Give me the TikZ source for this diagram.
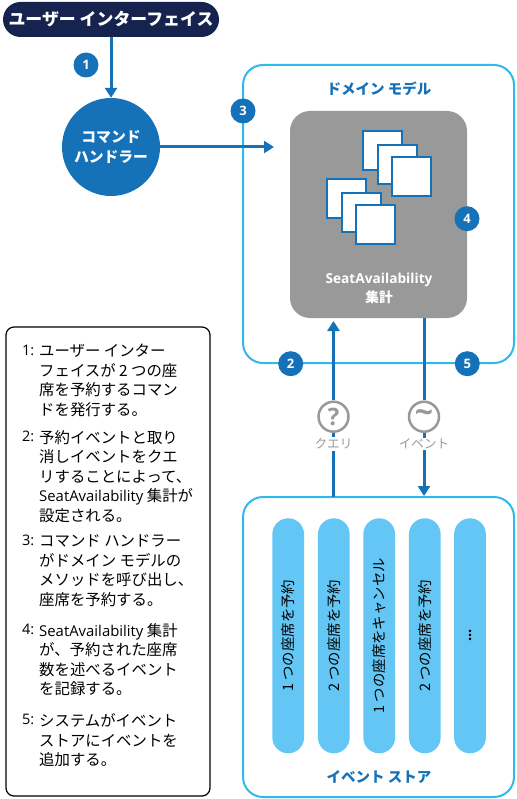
\documentclass[tikz,border=0pt]{standalone}
\usepackage{fontspec}
\setmainfont{Open Sans}
\newfontfamily\cjk{Noto Sans CJK JP}
\usetikzlibrary{arrows.meta}

\definecolor{navy}{HTML}{16234F}
\definecolor{flow}{HTML}{1672B8}
\definecolor{frame}{HTML}{2FB9EC}
\definecolor{slab}{HTML}{999999}
\definecolor{stream}{HTML}{63C6F4}

\newcommand{\seatname}{{\rmfamily\fontsize{14.9}{19.6}\selectfont SeatAvailability}}

\tikzset{
	badge/.style={circle,fill=flow,text=white,minimum size=25pt,inner sep=0pt,font=\bfseries\fontsize{13}{13}\selectfont},
	region/.style={rectangle,draw=frame,line width=2pt,rounded corners=20pt,minimum width=271pt,inner sep=0pt},
	seat/.style={rectangle,draw=flow,line width=2pt,fill=white,minimum size=39pt,inner sep=0pt},
	flowline/.style={draw=flow,line width=3pt},
	flowarrow/.style={flowline,-{Triangle[length=10pt,width=12pt]}},
	sign/.style={circle,draw=slab,line width=2.5pt,fill=white,text=slab,minimum size=30pt,inner sep=0pt},
	signtext/.style={text=slab,inner sep=1pt,font=\cjk\fontsize{12.6}{12.6}\selectfont},
	entry/.style={rectangle,fill=stream,rounded corners=15.8pt,minimum width=235pt,minimum height=31.7pt,inner sep=0pt,rotate=90,font=\cjk\fontsize{14.4}{14.4}\selectfont},
	notenum/.style={anchor=north west,inner sep=0pt,font=\fontsize{14.5}{19.6}\selectfont},
	notetext/.style={anchor=north west,inner sep=0pt,align=left,font=\cjk\fontsize{15.4}{19.6}\selectfont},
	regionname/.style={text=flow,font=\cjk\bfseries\fontsize{14.5}{14.5}\selectfont},
}

\begin{document}
\begin{tikzpicture}[x=1pt,y=-1pt]

	\useasboundingbox (0,0) rectangle (516,799);

	\node[region,minimum height=298pt] (domain) at (378.5,214) {};
	\node[region,minimum height=300pt] (store) at (378.5,647) {};

	\node[rectangle,fill=navy,rounded corners=17.5pt,minimum width=216pt,minimum height=35pt,inner sep=0pt,text=white,font=\cjk\bfseries\fontsize{16.9}{16.9}\selectfont] (ui) at (111,19.5) {ユーザー インターフェイス};
	\node[circle,fill=flow,minimum size=98pt,inner sep=0pt,text=white,align=center,font=\cjk\bfseries\fontsize{14.8}{20}\selectfont] (handler) at (111,147) {コマンド\\ハンドラー};
	\node[rectangle,fill=slab,rounded corners=20pt,minimum width=177pt,minimum height=207pt,inner sep=0pt] (aggregate) at (378.5,214.5) {};

	\node[seat] (s1) at (382.3,150.7) {};
	\node[seat] (s2) at (397.2,164.7) {};
	\node[seat] (s3) at (411.2,176.3) {};
	\node[seat] (s4) at (346.5,198.7) {};
	\node[seat] (s5) at (361.3,212.7) {};
	\node[seat] (s6) at (375.5,224.3) {};

	\node[text=white,align=center,font=\bfseries\fontsize{13.7}{19}\selectfont] (aggname) at (379,288) {SeatAvailability\\{\cjk 集計}};
	\node[regionname] (domainname) at (379,89) {ドメイン モデル};
	\node[regionname] (storename) at (379,777) {イベント ストア};

	\node[sign,font=\bfseries\fontsize{24}{24}\selectfont] (query) at (333.5,416.7) {?};
	\node[sign,font=\bfseries\fontsize{32}{32}\selectfont] (event) at (424,416.7) {\char`\~};
	\node[signtext] (querytext) at (333.5,444) {クエリ};
	\node[signtext] (eventtext) at (424,444) {イベント};

	\coordinate (queryfoot) at (333.5,497);
	\coordinate (querytip) at (333.5,321);
	\coordinate (eventroot) at (424,318);
	\coordinate (eventtip) at (424,496);
	\coordinate (handlertip) at (274,147);

	\path[flowarrow] (ui) -- (handler);
	\path[flowarrow] (handler) -- (handlertip);
	\path[flowline] (queryfoot) -- (querytext);
	\path[flowline] (querytext) -- (query);
	\path[flowarrow] (query) -- (querytip);
	\path[flowline] (eventroot) -- (event);
	\path[flowline] (event) -- (eventtext);
	\path[flowarrow] (eventtext) -- (eventtip);

	\node[badge] (b1) at (86,65) {1};
	\node[badge] (b2) at (290.7,363.7) {2};
	\node[badge] (b3) at (243,111) {3};
	\node[badge] (b4) at (467,218.7) {4};
	\node[badge] (b5) at (467.3,363.7) {5};

	\node[entry] (e1) at (288.2,635.8) {1 つの座席を予約};
	\node[entry] (e2) at (333.8,635.8) {2 つの座席を予約};
	\node[entry] (e3) at (379.2,635.8) {1 つの座席をキャンセル};
	\node[entry] (e4) at (424.8,635.8) {2 つの座席を予約};
	\node[entry] (e5) at (470,635.8) {\rmfamily\bfseries ...};

	\node[rectangle,draw=black,line width=1.2pt,rounded corners=8pt,minimum width=204pt,minimum height=469pt,inner sep=0pt] (notes) at (108,561.5) {};

	\node[notenum] (n1) at (22,345) {1:};
	\node[notetext] (t1) at (39,344) {ユーザー インター\\フェイスが 2 つの座\\席を予約するコマン\\ドを発行する。};
	\node[notenum] (n2) at (22,431) {2:};
	\node[notetext] (t2) at (39,430) {予約イベントと取り\\消しイベントをクエ\\リすることによって、\\\seatname{} 集計が\\設定される。};
	\node[notenum] (n3) at (22,535) {3:};
	\node[notetext] (t3) at (39,534.5) {コマンド ハンドラー\\がドメイン モデルの\\メソッドを呼び出し、\\座席を予約する。};
	\node[notenum] (n4) at (22,624) {4:};
	\node[notetext] (t4) at (39,623) {\seatname{} 集計\\が、予約された座席\\数を述べるイベント\\を記録する。};
	\node[notenum] (n5) at (22,714) {5:};
	\node[notetext] (t5) at (39,713.5) {システムがイベント\\ストアにイベントを\\追加する。};

\end{tikzpicture}
\end{document}
